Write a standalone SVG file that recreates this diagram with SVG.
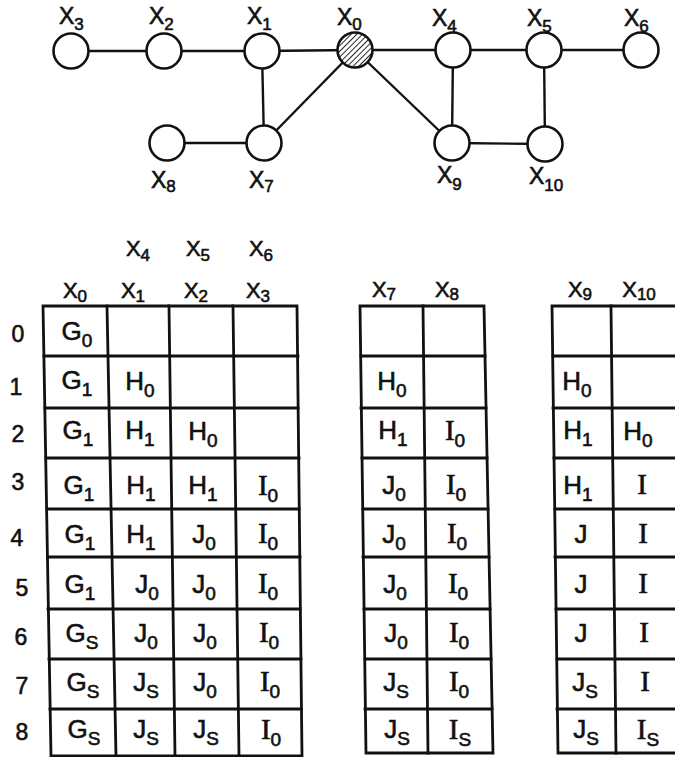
<svg xmlns="http://www.w3.org/2000/svg" width="675" height="757" viewBox="0 0 675 757">
  <style>
    text { font-family: "Liberation Sans", "DejaVu Sans", sans-serif; fill: #111; stroke: #111; stroke-width: 0.6px; }
    .lbl { font-size: 23px; }
    .lbl .sub { font-size: 17px; }
    .cell { font-size: 26px; text-anchor: middle; }
    .cell .sub { font-size: 19px; }
    .hdr { font-size: 22px; text-anchor: middle; }
    .hdr .sub { font-size: 17px; }
    .row { font-size: 23px; text-anchor: middle; }
    .serif { font-family: "Liberation Serif", serif; font-size: 29px; }
    .edge { stroke: #111; stroke-width: 2.4; fill: none; }
    .node { stroke: #111; stroke-width: 2.6; fill: #fff; }
    .grid { stroke: #111; stroke-width: 2.8; fill: none; stroke-linecap: square; }
  </style>
  <defs>
    <pattern id="hatch" width="4" height="4" patternUnits="userSpaceOnUse" patternTransform="rotate(45)">
      <rect width="4" height="4" fill="#fff"/>
      <line x1="0" y1="0" x2="0" y2="4" stroke="#111" stroke-width="1.8"/>
    </pattern>
  </defs>
  <rect width="675" height="757" fill="#fff"/>

  <!-- graph connectors -->
  <g id="connectors">
    <line class="edge" x1="71" y1="51" x2="164" y2="51"/>
    <line class="edge" x1="164" y1="51" x2="262" y2="51"/>
    <line class="edge" x1="262" y1="51" x2="355" y2="50"/>
    <line class="edge" x1="355" y1="50" x2="453" y2="50"/>
    <line class="edge" x1="453" y1="50" x2="544" y2="50"/>
    <line class="edge" x1="544" y1="50" x2="641" y2="50"/>
    <line class="edge" x1="262" y1="51" x2="264" y2="143"/>
    <line class="edge" x1="167" y1="143" x2="264" y2="143"/>
    <line class="edge" x1="264" y1="143" x2="355" y2="50"/>
    <line class="edge" x1="355" y1="50" x2="452" y2="143"/>
    <line class="edge" x1="453" y1="50" x2="452" y2="143"/>
    <line class="edge" x1="544" y1="50" x2="545" y2="144"/>
    <line class="edge" x1="452" y1="143" x2="545" y2="144"/>
  </g>

  <!-- graph nodes -->
  <g id="x3"><circle class="node" cx="71" cy="51" r="17.5"/><text class="lbl" x="59" y="24">X<tspan class="sub" dy="6">3</tspan></text></g>
  <g id="x2"><circle class="node" cx="164" cy="51" r="17.5"/><text class="lbl" x="149" y="24">X<tspan class="sub" dy="6">2</tspan></text></g>
  <g id="x1"><circle class="node" cx="262" cy="51" r="17.5"/><text class="lbl" x="247" y="24">X<tspan class="sub" dy="6">1</tspan></text></g>
  <g id="x0"><circle class="node" cx="355" cy="50" r="17.5" style="fill:url(#hatch)"/><text class="lbl" x="337" y="25">X<tspan class="sub" dy="5">0</tspan></text></g>
  <g id="x4"><circle class="node" cx="453" cy="50" r="17.5"/><text class="lbl" x="432" y="26">X<tspan class="sub" dy="6">4</tspan></text></g>
  <g id="x5"><circle class="node" cx="544" cy="50" r="17.5"/><text class="lbl" x="527" y="26">X<tspan class="sub" dy="6">5</tspan></text></g>
  <g id="x6"><circle class="node" cx="641" cy="50" r="17.5"/><text class="lbl" x="624" y="26">X<tspan class="sub" dy="6">6</tspan></text></g>
  <g id="x7"><circle class="node" cx="264" cy="143" r="17.5"/><text class="lbl" x="249" y="188">X<tspan class="sub" dy="4">7</tspan></text></g>
  <g id="x8"><circle class="node" cx="167" cy="143" r="17.5"/><text class="lbl" x="151" y="188">X<tspan class="sub" dy="4">8</tspan></text></g>
  <g id="x9"><circle class="node" cx="452" cy="143" r="17.5"/><text class="lbl" x="437" y="183">X<tspan class="sub" dy="7">9</tspan></text></g>
  <g id="x10"><circle class="node" cx="545" cy="144" r="17.5"/><text class="lbl" x="529" y="184">X<tspan class="sub" dy="7">10</tspan></text></g>

  <!-- step numbers -->
  <g id="steps">
    <text class="row" x="18" y="342">0</text>
    <text class="row" x="16" y="395">1</text>
    <text class="row" x="18" y="442">2</text>
    <text class="row" x="18" y="490">3</text>
    <text class="row" x="17" y="546">4</text>
    <text class="row" x="22" y="596">5</text>
    <text class="row" x="21" y="645">6</text>
    <text class="row" x="22" y="694">7</text>
    <text class="row" x="22" y="740">8</text>
  </g>

  <!-- table for x0..x6 -->
  <g id="table-a">
    <text class="hdr" x="138" y="256">X<tspan class="sub" dy="5">4</tspan></text>
    <text class="hdr" x="198" y="256">X<tspan class="sub" dy="5">5</tspan></text>
    <text class="hdr" x="261" y="256">X<tspan class="sub" dy="5">6</tspan></text>
    <text class="hdr" x="75" y="298">X<tspan class="sub" dy="4">0</tspan></text>
    <text class="hdr" x="133" y="298">X<tspan class="sub" dy="4">1</tspan></text>
    <text class="hdr" x="196" y="298">X<tspan class="sub" dy="4">2</tspan></text>
    <text class="hdr" x="258" y="298">X<tspan class="sub" dy="4">3</tspan></text>
    <path class="grid" d="M43,306 L297,306 L302,756 L51,756 Z"/>
    <path class="grid" d="M107,306 L116,756 M169,306 L175,756 M233,306 L239,756"/>
    <path class="grid" d="M44,356 H298 M45,408 H298 M46,458 H299 M47,509 H299 M47.5,557 H300 M48,609 H300 M49,659 H301 M50,709 H301.5"/>
    <text class="cell" x="77" y="340">G<tspan class="sub" dy="7">0</tspan></text>
    <text class="cell" x="77" y="389">G<tspan class="sub" dy="7">1</tspan></text>
    <text class="cell" x="140" y="390">H<tspan class="sub" dy="7">0</tspan></text>
    <text class="cell" x="78" y="439">G<tspan class="sub" dy="7">1</tspan></text>
    <text class="cell" x="140" y="439">H<tspan class="sub" dy="7">1</tspan></text>
    <text class="cell" x="203" y="440">H<tspan class="sub" dy="7">0</tspan></text>
    <text class="cell" x="79" y="494">G<tspan class="sub" dy="7">1</tspan></text>
    <text class="cell" x="141" y="494">H<tspan class="sub" dy="7">1</tspan></text>
    <text class="cell" x="203" y="494">H<tspan class="sub" dy="7">1</tspan></text>
    <text class="cell" x="268" y="495"><tspan class="serif">I</tspan><tspan class="sub" dy="7">0</tspan></text>
    <text class="cell" x="80" y="543">G<tspan class="sub" dy="7">1</tspan></text>
    <text class="cell" x="141" y="543">H<tspan class="sub" dy="7">1</tspan></text>
    <text class="cell" x="204" y="543">J<tspan class="sub" dy="7">0</tspan></text>
    <text class="cell" x="268" y="543"><tspan class="serif">I</tspan><tspan class="sub" dy="7">0</tspan></text>
    <text class="cell" x="80" y="593">G<tspan class="sub" dy="7">1</tspan></text>
    <text class="cell" x="147" y="593">J<tspan class="sub" dy="7">0</tspan></text>
    <text class="cell" x="204" y="593">J<tspan class="sub" dy="7">0</tspan></text>
    <text class="cell" x="268" y="593"><tspan class="serif">I</tspan><tspan class="sub" dy="7">0</tspan></text>
    <text class="cell" x="82" y="642">G<tspan class="sub" dy="7">S</tspan></text>
    <text class="cell" x="146" y="642">J<tspan class="sub" dy="7">0</tspan></text>
    <text class="cell" x="205" y="642">J<tspan class="sub" dy="7">0</tspan></text>
    <text class="cell" x="269" y="642"><tspan class="serif">I</tspan><tspan class="sub" dy="7">0</tspan></text>
    <text class="cell" x="83" y="691">G<tspan class="sub" dy="7">S</tspan></text>
    <text class="cell" x="146" y="691">J<tspan class="sub" dy="7">S</tspan></text>
    <text class="cell" x="205" y="691">J<tspan class="sub" dy="7">0</tspan></text>
    <text class="cell" x="270" y="691"><tspan class="serif">I</tspan><tspan class="sub" dy="7">0</tspan></text>
    <text class="cell" x="84" y="738">G<tspan class="sub" dy="7">S</tspan></text>
    <text class="cell" x="146" y="738">J<tspan class="sub" dy="7">S</tspan></text>
    <text class="cell" x="206" y="738">J<tspan class="sub" dy="7">S</tspan></text>
    <text class="cell" x="271" y="739"><tspan class="serif">I</tspan><tspan class="sub" dy="7">0</tspan></text>
  </g>

  <!-- table for x7, x8 -->
  <g id="table-b">
    <text class="hdr" x="384" y="297">X<tspan class="sub" dy="3">7</tspan></text>
    <text class="hdr" x="447" y="297">X<tspan class="sub" dy="3">8</tspan></text>
    <path class="grid" d="M360,306 L484,306 L493,753 L366,753 Z"/>
    <path class="grid" d="M423,306 L428,753"/>
    <path class="grid" d="M361,356 H485 M361,408 H486 M362,458 H487 M363,509 H488 M363,557 H489 M364,609 H490 M365,659 H491 M365,709 H492"/>
    <text class="cell" x="392" y="390">H<tspan class="sub" dy="7">0</tspan></text>
    <text class="cell" x="393" y="439">H<tspan class="sub" dy="7">1</tspan></text>
    <text class="cell" x="455" y="440"><tspan class="serif">I</tspan><tspan class="sub" dy="7">0</tspan></text>
    <text class="cell" x="394" y="494">J<tspan class="sub" dy="7">0</tspan></text>
    <text class="cell" x="456" y="494"><tspan class="serif">I</tspan><tspan class="sub" dy="7">0</tspan></text>
    <text class="cell" x="394" y="543">J<tspan class="sub" dy="7">0</tspan></text>
    <text class="cell" x="457" y="543"><tspan class="serif">I</tspan><tspan class="sub" dy="7">0</tspan></text>
    <text class="cell" x="395" y="593">J<tspan class="sub" dy="7">0</tspan></text>
    <text class="cell" x="458" y="593"><tspan class="serif">I</tspan><tspan class="sub" dy="7">0</tspan></text>
    <text class="cell" x="396" y="642">J<tspan class="sub" dy="7">0</tspan></text>
    <text class="cell" x="459" y="642"><tspan class="serif">I</tspan><tspan class="sub" dy="7">0</tspan></text>
    <text class="cell" x="396" y="691">J<tspan class="sub" dy="7">S</tspan></text>
    <text class="cell" x="459" y="691"><tspan class="serif">I</tspan><tspan class="sub" dy="7">0</tspan></text>
    <text class="cell" x="397" y="738">J<tspan class="sub" dy="7">S</tspan></text>
    <text class="cell" x="460" y="739"><tspan class="serif">I</tspan><tspan class="sub" dy="7">S</tspan></text>
  </g>

  <!-- table for x9, x10 (right border runs past the page edge) -->
  <g id="table-c">
    <text class="hdr" x="580" y="297">X<tspan class="sub" dy="3">9</tspan></text>
    <text class="hdr" x="639" y="297">X<tspan class="sub" dy="3">10</tspan></text>
    <path class="grid" d="M678,306 L552,306 L558,753 L680,753"/>
    <path class="grid" d="M611,306 L616,753"/>
    <path class="grid" d="M553,356 H680 M553,408 H680 M554,458 H680 M555,509 H680 M555,557 H680 M556,609 H680 M557,659 H680 M557,709 H680"/>
    <text class="cell" x="577" y="390">H<tspan class="sub" dy="7">0</tspan></text>
    <text class="cell" x="578" y="439">H<tspan class="sub" dy="7">1</tspan></text>
    <text class="cell" x="638" y="440">H<tspan class="sub" dy="7">0</tspan></text>
    <text class="cell" x="578" y="494">H<tspan class="sub" dy="7">1</tspan></text>
    <text class="cell serif" x="642" y="494">I</text>
    <text class="cell" x="581" y="543">J</text>
    <text class="cell serif" x="643" y="543">I</text>
    <text class="cell" x="581" y="593">J</text>
    <text class="cell serif" x="643" y="593">I</text>
    <text class="cell" x="581" y="642">J</text>
    <text class="cell serif" x="644" y="642">I</text>
    <text class="cell" x="585" y="691">J<tspan class="sub" dy="7">S</tspan></text>
    <text class="cell serif" x="645" y="691">I</text>
    <text class="cell" x="586" y="738">J<tspan class="sub" dy="7">S</tspan></text>
    <text class="cell" x="648" y="739"><tspan class="serif">I</tspan><tspan class="sub" dy="7">S</tspan></text>
  </g>
</svg>
